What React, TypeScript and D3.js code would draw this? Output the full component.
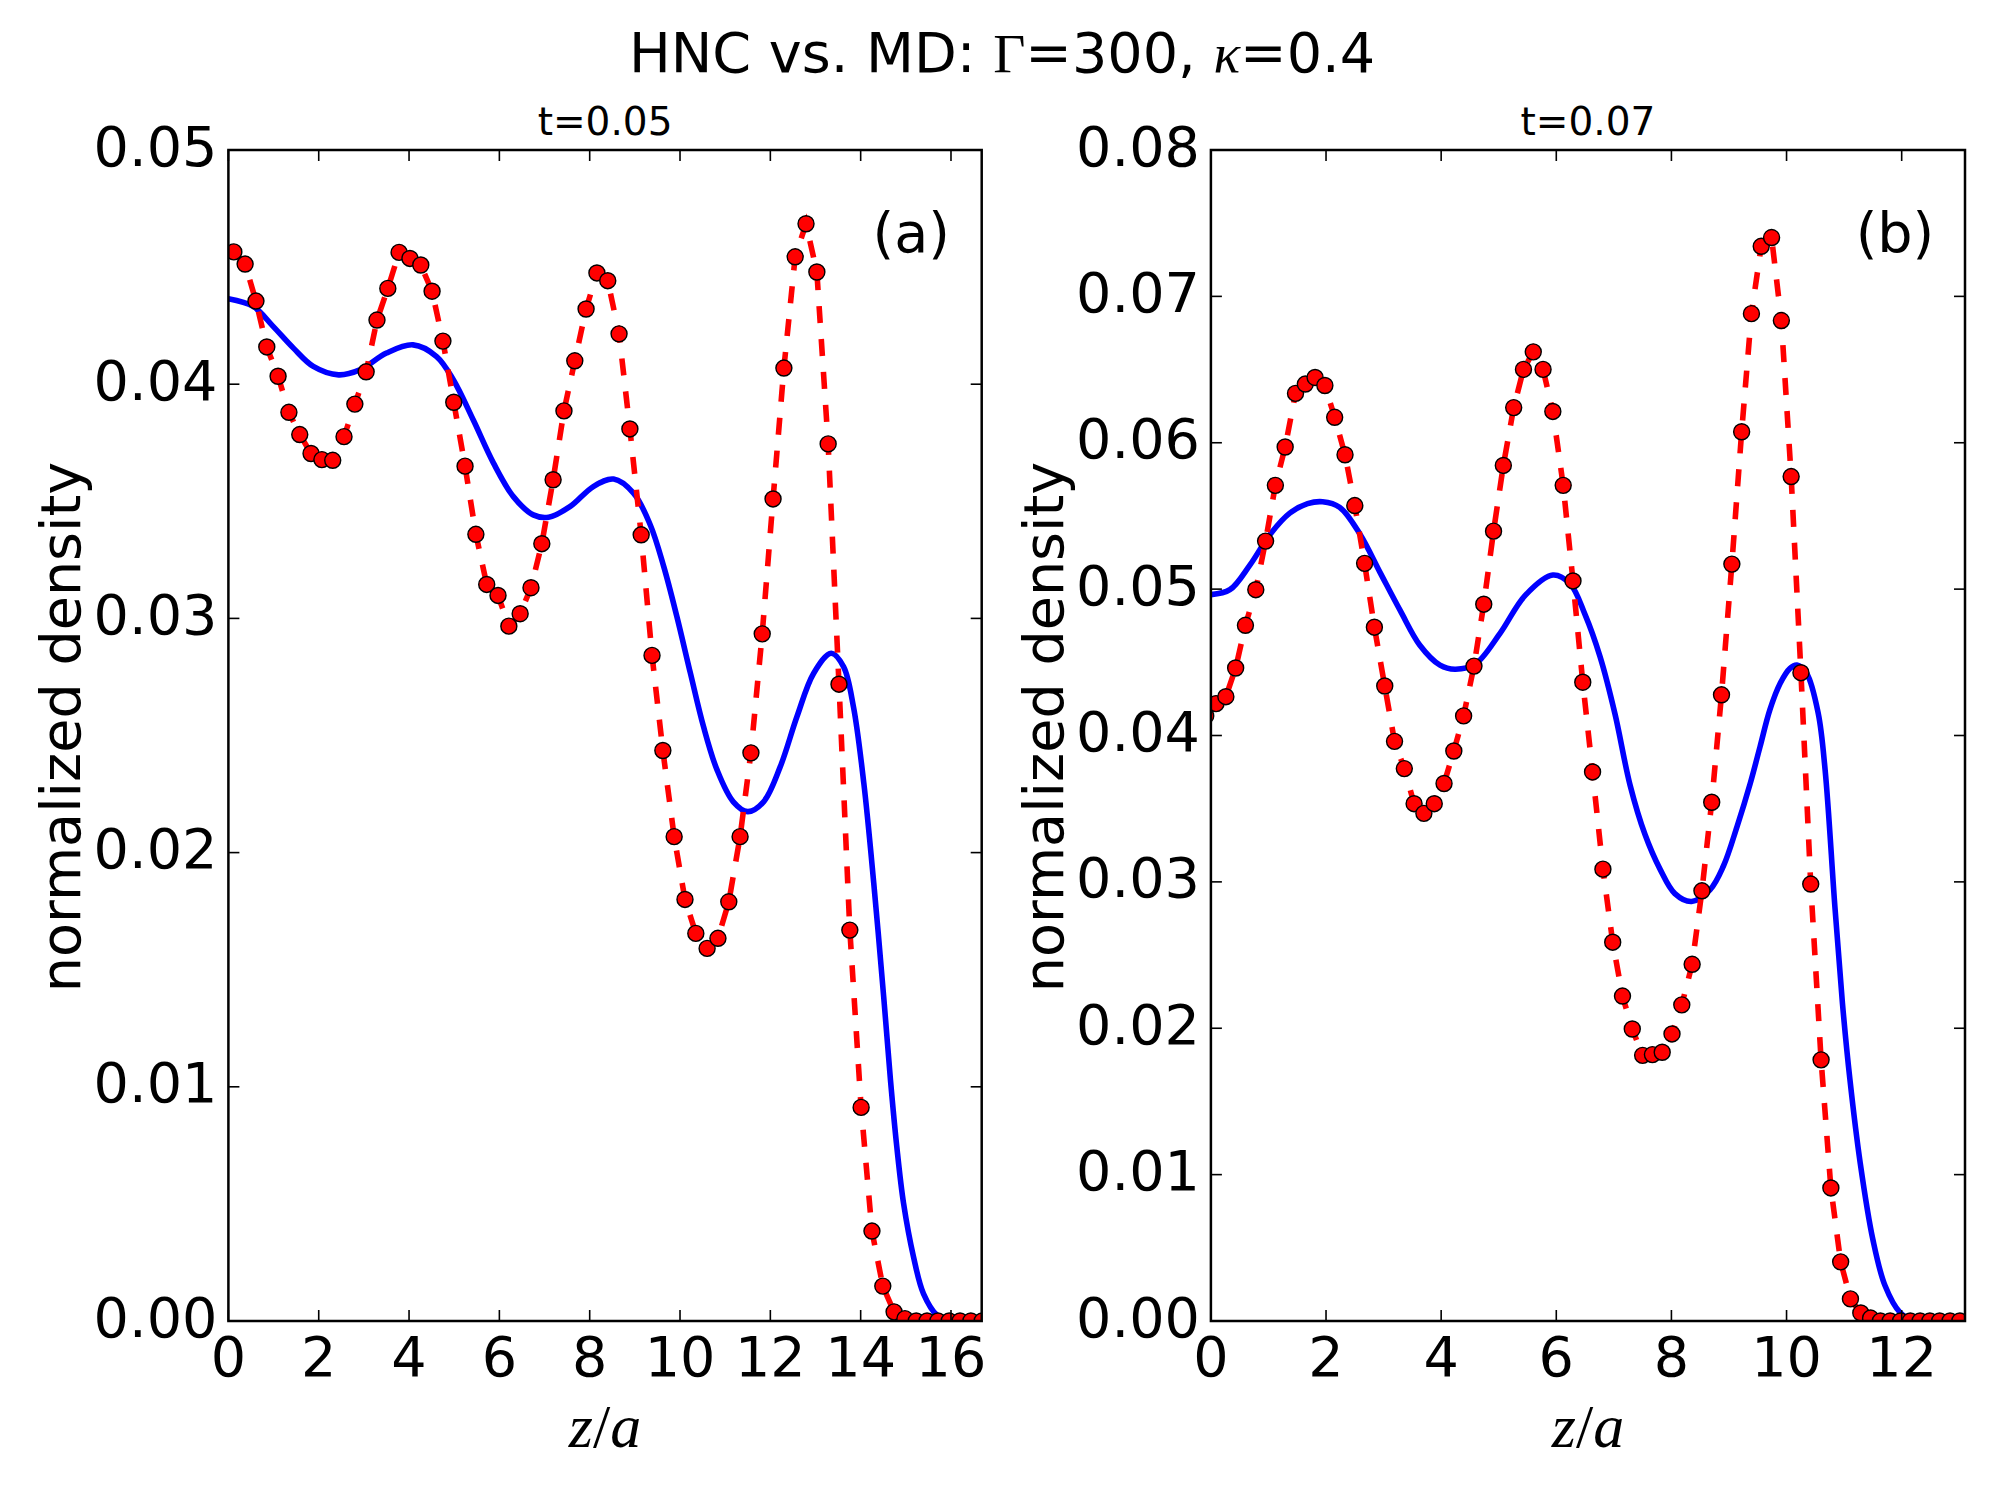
import React, { useEffect } from 'react';
import * as d3 from 'd3';

// panel (a): t=0.05, MD bins and HNC curve
const zA = [
  0.12, 0.37, 0.61, 0.85, 1.10, 1.34, 1.58, 1.83, 2.07, 2.31, 2.56, 2.80, 3.05, 3.29, 3.53,
  3.78, 4.02, 4.26, 4.51, 4.75, 4.99, 5.24, 5.48, 5.72, 5.97, 6.21, 6.46, 6.70, 6.94, 7.19,
  7.43, 7.67, 7.92, 8.16, 8.40, 8.65, 8.89, 9.14, 9.38, 9.62, 9.87, 10.11, 10.35, 10.60, 10.84,
  11.08, 11.33, 11.57, 11.82, 12.06, 12.30, 12.55, 12.79, 13.03, 13.28, 13.52, 13.76, 14.01, 14.25, 14.49,
  14.74, 14.98, 15.23, 15.47, 15.71, 15.96, 16.20, 16.44, 16.69,
];
const mdA = [
  0.04565, 0.04513, 0.04355, 0.04159, 0.04034, 0.0388, 0.03785, 0.03704, 0.03678, 0.03675,
  0.03776, 0.03915, 0.04053, 0.04274, 0.04409, 0.04563, 0.04537, 0.04509, 0.04397, 0.04184,
  0.03923, 0.0365, 0.03359, 0.03145, 0.03098, 0.02967, 0.0302, 0.03131, 0.03319, 0.03592,
  0.03886, 0.041, 0.04321, 0.04475, 0.04442, 0.04215, 0.03809, 0.03357, 0.02842, 0.02436,
  0.02068, 0.018, 0.01655, 0.01591, 0.01634, 0.0179, 0.02068, 0.02426, 0.02934, 0.0351,
  0.04069, 0.04544, 0.04685, 0.04479, 0.03745, 0.02719, 0.01669, 0.00912, 0.00384, 0.00149,
  0.00039, 0.0001, 0, 0, 0, 0, 0, 0, 0,
];
const hncAz = [
  0, 0.55, 0.99, 1.44, 1.88, 2.44, 2.91, 3.5, 4.09, 4.61, 4.98, 5.42, 5.87, 6.31, 6.75, 7.09,
  7.57, 8.08, 8.53, 8.97, 9.34, 9.64, 9.93, 10.23, 10.52, 10.82, 11.18, 11.5, 11.85, 12.22,
  12.59, 12.96, 13.35, 13.62, 13.84, 14.07, 14.29, 14.51, 14.66, 14.8, 14.95, 15.17, 15.39,
  15.69, 15.99, 16.69,
];
const hncA = [
  0.04365, 0.04332, 0.04247, 0.04154, 0.04076, 0.0404, 0.04061, 0.04133, 0.04168, 0.04118,
  0.04019, 0.03848, 0.03663, 0.0352, 0.03442, 0.03432, 0.03478, 0.03563, 0.03595, 0.03535,
  0.034, 0.03221, 0.03008, 0.02766, 0.02538, 0.02353, 0.02217, 0.02175, 0.02217, 0.02367,
  0.02581, 0.02766, 0.02851, 0.02794, 0.02623, 0.02296, 0.01869, 0.01384, 0.01029, 0.00744,
  0.00502, 0.00274, 0.00117, 0.00025, 0, 0,
];

// panel (b): t=0.07
const zB = [
  -0.09, 0.09, 0.26, 0.43, 0.6, 0.78, 0.95, 1.12, 1.29, 1.47, 1.64, 1.81, 1.98, 2.15, 2.33,
  2.5, 2.67, 2.84, 3.02, 3.19, 3.36, 3.53, 3.7, 3.88, 4.05, 4.22, 4.39, 4.57, 4.74, 4.91,
  5.08, 5.26, 5.43, 5.6, 5.77, 5.94, 6.12, 6.29, 6.46, 6.63, 6.81, 6.98, 7.15, 7.32, 7.5,
  7.67, 7.84, 8.01, 8.18, 8.36, 8.53, 8.7, 8.87, 9.05, 9.22, 9.39, 9.56, 9.74, 9.91, 10.08,
  10.25, 10.42, 10.6, 10.77, 10.94, 11.11, 11.29, 11.46, 11.63, 11.8, 11.98, 12.15, 12.32, 12.49, 12.66,
  12.84, 13.01,
];
const mdB = [
  0.04134, 0.04218, 0.04265, 0.04461, 0.04753, 0.04996, 0.05328, 0.05709, 0.05971, 0.06337,
  0.06401, 0.06446, 0.06391, 0.06174, 0.05918, 0.05571, 0.05176, 0.0474, 0.04338, 0.0396,
  0.03774, 0.03534, 0.03468, 0.03534, 0.03672, 0.03894, 0.04134, 0.04474, 0.04897, 0.05396,
  0.05845, 0.0624, 0.06501, 0.06621, 0.06501, 0.06214, 0.05709, 0.05056, 0.04364, 0.03751,
  0.03087, 0.02588, 0.0222, 0.01995, 0.01815, 0.0182, 0.01836, 0.01961, 0.0216, 0.02437,
  0.02939, 0.03544, 0.04278, 0.05171, 0.06075, 0.06882, 0.07342, 0.07402, 0.06835, 0.05769,
  0.04429, 0.02985, 0.01784, 0.00909, 0.00404, 0.00151, 0.00055, 0.0002, 0, 0,
  0, 0, 0, 0, 0, 0, 0,
];
const hncBz = [
  0, 0.33, 0.68, 1.03, 1.37, 1.68, 1.94, 2.24, 2.59, 2.94, 3.29, 3.63, 3.98, 4.24, 4.59,
  5.02, 5.46, 5.94, 6.24, 6.5, 6.76, 7.02, 7.28, 7.54, 7.8, 8.06, 8.35, 8.67, 8.9, 9.14,
  9.37, 9.54, 9.71, 9.89, 10.06, 10.18, 10.35, 10.55, 10.67, 10.84, 10.97, 11.1, 11.28, 11.5,
  11.71, 11.97, 12.23, 13.1,
];
const hncB = [
  0.04962, 0.04996, 0.05166, 0.05375, 0.05519, 0.05584, 0.05597, 0.05558, 0.05375, 0.05113,
  0.04853, 0.04617, 0.04481, 0.04453, 0.04487, 0.04696, 0.04957, 0.05096, 0.05036, 0.04826,
  0.04539, 0.04147, 0.03664, 0.03325, 0.03089, 0.0292, 0.02866, 0.02946, 0.03105, 0.03378,
  0.03674, 0.03924, 0.04175, 0.04357, 0.04459, 0.04481, 0.04424, 0.04152, 0.03765, 0.02829,
  0.02175, 0.01653, 0.01079, 0.00556, 0.00242, 0.00059, 0, 0,
];

const xTicksA = [0, 2, 4, 6, 8, 10, 12, 14, 16];
const yTicksA = [0, 0.01, 0.02, 0.03, 0.04, 0.05];
const xTicksB = [0, 2, 4, 6, 8, 10, 12];
const yTicksB = [0, 0.01, 0.02, 0.03, 0.04, 0.05, 0.06, 0.07, 0.08];

const SANS = '"DejaVu Sans", sans-serif';
const SERIF = '"Liberation Serif", "DejaVu Serif", serif';
const FS = 55.6;

type PanelProps = {
  id: string;
  left: number;
  right: number;
  xMax: number;
  yMax: number;
  xTicks: number[];
  yTicks: number[];
  z: number[];
  md: number[];
  hz: number[];
  hnc: number[];
  title: string;
  tag: string;
};

const TOP = 150;
const BOTTOM = 1321;

function Panel(p: PanelProps) {
  const x = d3.scaleLinear().domain([0, p.xMax]).range([p.left, p.right]);
  const y = d3.scaleLinear().domain([0, p.yMax]).range([BOTTOM, TOP]);

  const hncPath = d3
    .line<number>()
    .x((_, i) => x(p.hz[i]))
    .y((d) => y(d))
    .curve(d3.curveCatmullRom.alpha(0.5))(p.hnc);
  const mdPath = d3
    .line<number>()
    .x((_, i) => x(p.z[i]))
    .y((d) => y(d))(p.md);

  const tick = 11;
  const cx = (p.left + p.right) / 2;

  return (
    <g>
      <defs>
        <clipPath id={p.id}>
          <rect x={p.left} y={TOP} width={p.right - p.left} height={BOTTOM - TOP} />
        </clipPath>
      </defs>
      <g clipPath={`url(#${p.id})`}>
        <path d={hncPath || ''} fill="none" stroke="#0000ff" strokeWidth={5.6} />
        <path d={mdPath || ''} fill="none" stroke="#ff0000" strokeWidth={5.6} strokeDasharray="17 16" />
        {p.md.map((d, i) => (
          <circle key={i} cx={x(p.z[i])} cy={y(d)} r={8} fill="#ff0000" stroke="#000" strokeWidth={1.4} />
        ))}
      </g>

      {p.xTicks.map((t) => (
        <g key={`x${t}`}>
          <line x1={x(t)} x2={x(t)} y1={BOTTOM} y2={BOTTOM - tick} stroke="#000" strokeWidth={1.6} />
          <line x1={x(t)} x2={x(t)} y1={TOP} y2={TOP + tick} stroke="#000" strokeWidth={1.6} />
          <text x={x(t)} y={1376} textAnchor="middle" fontFamily={SANS} fontSize={FS}>
            {t}
          </text>
        </g>
      ))}
      {p.yTicks.map((t) => (
        <g key={`y${t}`}>
          <line x1={p.left} x2={p.left + tick} y1={y(t)} y2={y(t)} stroke="#000" strokeWidth={1.6} />
          <line x1={p.right} x2={p.right - tick} y1={y(t)} y2={y(t)} stroke="#000" strokeWidth={1.6} />
          <text x={p.left - 11} y={y(t) + 15.5} textAnchor="end" fontFamily={SANS} fontSize={FS}>
            {t.toFixed(2)}
          </text>
        </g>
      ))}

      <rect
        x={p.left}
        y={TOP}
        width={p.right - p.left}
        height={BOTTOM - TOP}
        fill="none"
        stroke="#000"
        strokeWidth={2.5}
      />

      <text x={cx} y={135} textAnchor="middle" fontFamily={SANS} fontSize={39}>
        {p.title}
      </text>
      <text x={p.left + 0.855 * (p.right - p.left)} y={252} fontFamily={SANS} fontSize={FS}>
        {p.tag}
      </text>
      <text
        transform={`translate(${p.left - 148},727) rotate(-90)`}
        textAnchor="middle"
        fontFamily={SANS}
        fontSize={FS}
      >
        normalized density
      </text>
      <text x={cx} y={1447} textAnchor="middle" fontFamily={SERIF} fontSize={62}>
        <tspan fontStyle="italic">z</tspan>
        <tspan>/</tspan>
        <tspan fontStyle="italic">a</tspan>
      </text>
    </g>
  );
}

export default function App() {
  useEffect(() => {
    document.body.style.margin = '0';
  }, []);

  return (
    <svg width={2000} height={1500} style={{ display: 'block', background: '#fff' }}>
      <rect x={0} y={0} width={2000} height={1500} fill="#fff" />
      <text x={1002} y={72} textAnchor="middle" fontFamily={SANS} fontSize={FS}>
        HNC vs. MD: <tspan fontFamily={SERIF}>Γ</tspan>=300, <tspan fontFamily={SERIF} fontStyle="italic">κ</tspan>=0.4
      </text>
      <Panel
        id="clipA"
        left={228.4}
        right={981.7}
        xMax={16.68}
        yMax={0.05}
        xTicks={xTicksA}
        yTicks={yTicksA}
        z={zA}
        md={mdA}
        hz={hncAz}
        hnc={hncA}
        title="t=0.05"
        tag="(a)"
      />
      <Panel
        id="clipB"
        left={1210.9}
        right={1965}
        xMax={13.1}
        yMax={0.08}
        xTicks={xTicksB}
        yTicks={yTicksB}
        z={zB}
        md={mdB}
        hz={hncBz}
        hnc={hncB}
        title="t=0.07"
        tag="(b)"
      />
    </svg>
  );
}
